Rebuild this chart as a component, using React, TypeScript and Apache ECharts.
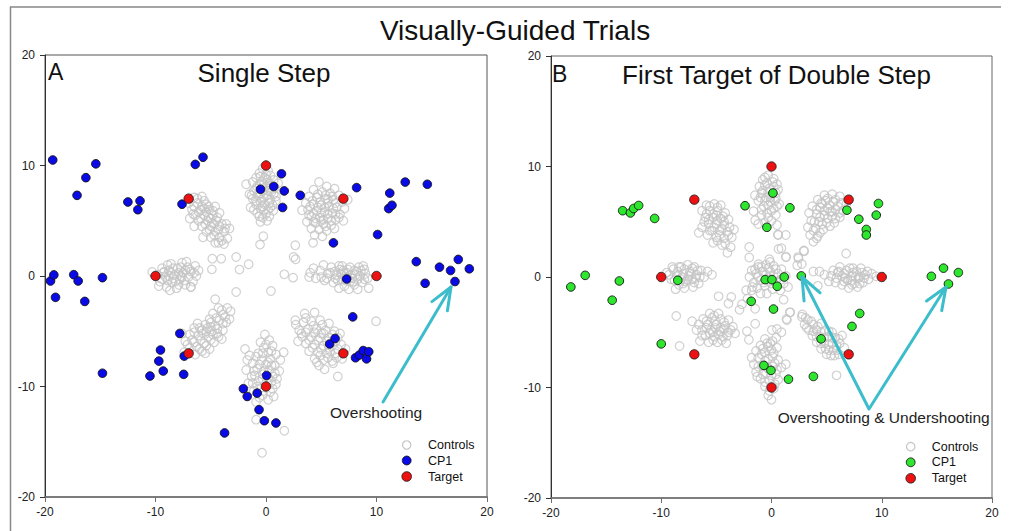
import React, { useEffect, useRef } from "react";
import * as echarts from "echarts";

const FONT = '"Liberation Sans", Arial, Helvetica, sans-serif';

// ---------- Panel A (Single Step) ----------
const targets: number[][] = [
  [-10, 0], [10, 0], [0, 10], [0, -10], [7, 7], [-7, 7], [7, -7], [-7, -7],
];

const cp1A: number[][] = [
  [-19.3, 10.5], [-6.4, 10.1], [-5.7, 10.75], [-16.3, 8.9], [-15.4, 10.15], [-17.1, 7.3],
  [-12.5, 6.7], [-11.4, 6.8], [-11.6, 6.0], [-7.6, 6.5], [-0.5, 7.85], [1.4, 9.25],
  [0.7, 8.1], [1.65, 7.7], [1.5, 6.2], [3.1, 7.3], [8.2, 8.0], [6.1, 3.0], [10.1, 3.75],
  [11.2, 7.5], [11.1, 6.1], [11.4, 6.4], [12.6, 8.5], [14.6, 8.3], [13.6, 1.3], [15.7, 0.8],
  [16.7, 0.5], [17.4, 1.5], [18.4, 0.65], [14.4, -0.66], [17.1, -0.5], [7.3, -0.27],
  [-19.5, -0.45], [-19.2, 0.1], [-17.4, 0.12], [-17.0, -0.45], [-14.8, -0.15], [-19.05, -1.93],
  [-16.4, -2.3], [-14.8, -8.8], [-10.5, -9.05], [-9.7, -7.7], [-9.55, -6.7], [-9.3, -8.6],
  [-7.8, -5.2], [-7.45, -8.9], [-7.4, -7.25], [-3.75, -14.2], [-2.05, -10.2], [-1.7, -10.9],
  [-0.8, -10.6], [-0.63, -12.1], [-0.15, -13.1], [0.05, -9.0], [0.9, -13.3], [5.76, -6.15],
  [6.25, -5.65], [7.85, -3.7], [8.1, -7.4], [8.45, -7.15], [8.8, -6.75], [9.1, -7.5], [9.3, -6.85],
];

const ctrlA_U: number[][] = [
  [-0.3, 9.7], [0.2, 9.5], [-0.6, 9.3], [0.4, 9.1], [-0.9, 8.9], [-0.1, 8.9], [0.7, 8.7],
  [-1.2, 8.5], [-0.4, 8.5], [0.3, 8.4], [-0.8, 8.1], [0.0, 8.1], [0.8, 8.0], [-1.8, 8.3],
  [-1.1, 7.7], [-0.3, 7.7], [0.5, 7.6], [-0.7, 7.3], [0.1, 7.3], [0.9, 7.2], [-1.2, 7.0],
  [-0.4, 6.9], [0.4, 6.9], [-0.9, 6.5], [-0.1, 6.5], [0.6, 6.4], [-1.4, 6.2], [-0.5, 6.1],
  [0.2, 6.0], [-0.8, 5.7], [0.0, 5.6], [0.66, 5.9], [-0.3, 5.3], [0.1, 5.0], [-0.5, 4.9],
  [-0.24, 3.6], [-0.54, 2.84], [1.1, 8.4], [-1.5, 7.4], [0.3, 7.9],
  [-0.5, 9.0], [0.1, 8.7], [-0.6, 8.3], [0.4, 8.2], [-0.2, 8.3], [-0.9, 7.9], [0.2, 7.7],
  [-0.5, 7.5], [0.7, 7.4], [-0.2, 7.1], [-0.9, 6.8], [0.3, 6.6], [-0.5, 6.7], [-0.3, 6.3],
  [0.4, 6.2], [-1.1, 6.0], [-0.2, 5.9], [0.3, 5.4], [-0.6, 5.4], [0.9, 6.8], [-1.3, 7.3], [0.0, 9.2],
];
const ctrlA_UR: number[][] = [
  [4.8, 8.5], [5.5, 8.1], [6.2, 7.9], [4.3, 7.8], [5.1, 7.6], [5.8, 7.5], [6.6, 7.3],
  [3.9, 7.2], [4.6, 7.1], [5.4, 7.0], [6.1, 6.9], [6.9, 6.7], [3.6, 6.6], [4.3, 6.5],
  [5.0, 6.4], [5.7, 6.3], [6.4, 6.2], [7.1, 6.1], [3.8, 6.0], [4.6, 5.9], [5.3, 5.8],
  [6.0, 5.7], [6.7, 5.6], [4.1, 5.4], [4.9, 5.3], [5.6, 5.2], [6.3, 5.1], [7.0, 5.0],
  [3.7, 4.9], [4.5, 4.8], [5.2, 4.7], [5.9, 4.6], [4.1, 4.3], [4.8, 4.2], [5.5, 4.1],
  [6.2, 4.3], [4.4, 3.7], [5.1, 3.6], [4.26, 3.0], [3.26, 5.95], [7.4, 6.9], [5.0, 5.0], [5.6, 6.6],
  [4.7, 7.4], [5.4, 7.3], [6.0, 7.2], [4.2, 6.8], [4.9, 6.7], [5.6, 6.9], [6.3, 6.6],
  [4.0, 6.3], [4.7, 6.2], [5.3, 6.2], [6.1, 6.1], [4.3, 5.7], [5.0, 5.7], [5.6, 5.6],
  [6.3, 5.6], [4.5, 5.2], [5.2, 5.1], [5.9, 5.0], [4.3, 4.9], [5.4, 4.5], [6.6, 5.3], [3.9, 5.5],
];
const ctrlA_R: number[][] = [
  [4.0, 0.3], [4.5, -0.2], [4.9, 0.5], [5.3, -0.4], [5.6, 0.2], [5.9, 0.8], [6.1, -0.6],
  [6.4, 0.1], [6.7, 0.6], [6.9, -0.3], [7.1, -0.9], [7.3, 0.3], [7.6, 0.8], [7.8, -0.2],
  [8.0, -0.8], [8.2, 0.4], [8.5, 0.0], [8.7, -0.6], [8.9, 0.6], [9.2, -0.2], [9.3, -1.1],
  [7.5, -1.2], [6.6, -1.1], [8.3, -1.2], [5.2, 1.0], [6.9, 0.9], [7.1, 0.2], [7.6, -0.5],
  [8.1, 0.1], [6.2, 0.4], [4.3, 0.7], [5.0, -0.1], [8.8, 0.9], [9.0, 0.2], [3.9, -0.1], [6.5, -0.4],
  [5.8, 0.3], [6.3, -0.2], [6.8, 0.2], [7.2, -0.4], [7.4, 0.6], [7.7, 0.1], [8.0, 0.5],
  [8.3, -0.3], [8.6, 0.5], [7.9, -0.5], [7.0, 0.5], [6.6, 0.9], [8.4, 0.8], [5.5, -0.2],
  [7.3, -0.1], [8.9, -0.3],
];
const ctrlA_DR: number[][] = [
  [3.5, -3.4], [4.4, -3.3], [2.65, -4.0], [2.7, -4.4], [3.4, -4.2], [4.1, -4.1], [4.9, -4.0],
  [5.7, -4.3], [3.0, -4.9], [3.8, -4.8], [4.6, -4.8], [5.4, -4.9], [6.2, -5.0], [3.3, -5.5],
  [4.1, -5.5], [4.9, -5.6], [5.7, -5.6], [6.5, -5.6], [3.6, -6.1], [4.4, -6.2], [5.2, -6.3],
  [6.0, -6.3], [6.8, -6.2], [3.9, -6.8], [4.7, -6.9], [5.5, -7.0], [6.3, -7.0], [4.4, -7.5],
  [5.2, -7.6], [6.0, -7.7], [6.9, -7.5], [5.3, -8.45], [6.5, -9.1], [6.07, -7.9], [4.8, -8.1],
  [2.9, -5.9], [5.0, -5.2], [5.8, -6.8], [7.2, -6.6], [3.6, -3.8],
  [4.3, -4.5], [5.1, -4.4], [3.6, -5.1], [4.4, -5.1], [5.2, -5.2], [6.0, -5.3], [3.9, -5.8],
  [4.7, -5.8], [5.5, -5.9], [6.3, -5.9], [4.2, -6.5], [5.0, -6.6], [5.7, -6.5], [6.5, -6.6],
  [4.9, -7.2], [5.6, -7.4], [6.4, -7.4], [4.6, -7.8], [3.2, -5.2], [6.7, -5.2],
];
const ctrlA_D: number[][] = [
  [-0.1, -5.3], [0.3, -5.8], [-0.5, -6.0], [0.6, -6.3], [-0.2, -6.5], [0.2, -6.9], [-0.7, -7.0],
  [0.9, -7.1], [-1.5, -7.2], [0.4, -7.5], [-0.4, -7.6], [1.3, -7.6], [-1.2, -7.9], [0.0, -8.0],
  [0.8, -8.1], [-0.8, -8.4], [0.3, -8.5], [-1.8, -8.5], [1.2, -8.6], [-0.3, -8.9], [-1.3, -9.1],
  [0.6, -9.1], [-0.7, -9.5], [0.1, -9.6], [-1.6, -9.7], [0.9, -9.8], [-0.4, -10.1], [-1.1, -10.4],
  [0.4, -10.5], [-0.6, -11.0], [0.2, -11.2], [-1.9, -6.6], [-1.7, -7.6], [1.6, -6.9],
  [-0.9, -13.0], [1.66, -14.0], [-0.36, -16.0], [-0.9, -11.4], [0.7, -10.9],
  [0.0, -6.2], [-0.3, -7.0], [0.5, -6.8], [-0.9, -7.3], [0.2, -7.8], [-0.6, -8.0], [0.5, -8.1],
  [-1.1, -8.6], [-0.2, -8.6], [0.8, -8.8], [-1.0, -9.0], [0.2, -9.2], [-0.3, -9.3], [-1.2, -9.7],
  [0.5, -9.6], [-0.2, -10.4], [-0.8, -10.0], [0.6, -10.2], [-0.3, -10.8], [1.0, -9.3],
];
const ctrlA_DL: number[][] = [
  [-4.6, -2.1], [-3.5, -2.9], [-3.2, -3.2], [-4.3, -2.9], [-3.9, -3.5], [-4.8, -3.4], [-4.2, -4.0],
  [-5.1, -3.9], [-3.6, -4.2], [-4.6, -4.5], [-5.5, -4.4], [-3.9, -4.9], [-4.9, -5.0], [-5.8, -4.9],
  [-6.5, -4.7], [-4.3, -5.5], [-5.2, -5.5], [-6.1, -5.4], [-6.9, -5.3], [-4.7, -6.0], [-5.6, -6.1],
  [-6.5, -6.0], [-7.3, -5.9], [-5.1, -6.6], [-6.0, -6.6], [-6.9, -6.5], [-5.5, -7.0], [-6.4, -7.1],
  [-7.4, -6.9], [-5.0, -4.6], [-5.4, -5.0], [-4.0, -5.7], [-7.6, -5.2], [-6.2, -4.3], [-3.3, -3.9],
  [-4.0, -3.1], [-4.5, -3.8], [-3.9, -4.3], [-5.0, -4.2], [-4.4, -4.8], [-5.3, -4.7], [-6.0, -4.7],
  [-4.8, -5.3], [-5.7, -5.2], [-6.5, -5.1], [-5.0, -5.8], [-5.9, -5.8], [-6.7, -5.8], [-5.4, -6.3],
  [-6.3, -6.4], [-7.1, -6.2], [-5.8, -6.8], [-4.4, -5.2], [-3.7, -3.7],
];
const ctrlA_L: number[][] = [
  [-10.3, 0.36], [-9.8, 0.1], [-9.6, -0.5], [-9.4, 0.7], [-9.1, -0.1], [-9.0, -1.0], [-8.8, 0.5],
  [-8.6, 1.1], [-8.5, -0.6], [-8.3, 0.1], [-8.1, -1.1], [-8.0, 0.7], [-7.8, -0.3], [-7.6, 1.2],
  [-7.5, 0.3], [-7.3, -0.8], [-7.1, 0.8], [-7.0, -0.1], [-6.8, 0.4], [-6.6, -0.5], [-6.4, 0.9],
  [-6.3, 0.0], [-6.8, -1.0], [-7.7, 0.0], [-8.4, -0.2], [-9.3, 0.3], [-8.9, 1.0], [-7.2, 1.3],
  [-6.1, 0.5], [-9.7, -0.9], [-8.7, -1.3],
  [-9.2, 0.4], [-8.9, -0.4], [-8.6, 0.3], [-8.4, 0.7], [-8.2, -0.5], [-7.9, 0.3], [-7.7, 0.8],
  [-7.4, -0.4], [-7.3, 0.5], [-7.9, -0.8], [-6.9, 0.6], [-6.5, 0.3], [-8.8, 0.0], [-9.4, -0.3], [-7.6, -0.1],
];
const ctrlA_UL: number[][] = [
  [-6.5, 7.1], [-5.8, 7.2], [-7.0, 6.6], [-6.2, 6.6], [-5.4, 6.5], [-6.7, 6.0], [-5.9, 6.0],
  [-5.1, 6.0], [-4.6, 6.3], [-6.4, 5.5], [-5.6, 5.5], [-4.8, 5.5], [-4.2, 5.7], [-6.9, 5.2],
  [-6.1, 5.0], [-5.3, 5.0], [-4.5, 5.0], [-5.8, 4.5], [-5.0, 4.5], [-4.2, 4.5], [-3.6, 4.7],
  [-5.4, 4.0], [-4.6, 4.0], [-3.8, 4.0], [-3.3, 4.3], [-5.0, 3.5], [-4.2, 3.5], [-3.5, 3.4],
  [-4.6, 3.0], [-3.8, 2.9], [-5.7, 3.5], [-6.5, 4.5], [-4.3, 3.0], [-5.2, 5.3], [-4.9, 4.8], [-5.6, 6.1],
  [-6.2, 7.0], [-5.6, 6.8], [-6.5, 6.3], [-5.8, 6.3], [-5.2, 6.3], [-6.1, 5.8], [-5.4, 5.8],
  [-4.8, 5.9], [-5.9, 5.2], [-5.0, 5.2], [-4.4, 5.3], [-5.5, 4.7], [-4.7, 4.7], [-4.0, 4.7],
  [-5.1, 4.2], [-4.3, 4.2], [-3.7, 4.3], [-4.7, 3.7], [-4.0, 3.2], [-6.6, 5.6],
];
const scatterA: number[][] = [
  [-4.86, 1.57], [-4.05, 1.57], [-4.9, 0.6], [-2.7, 1.72], [-2.4, 0.58], [-1.57, 1.06],
  [1.66, 0.15], [2.45, -0.15], [2.65, 2.78], [2.5, 1.72], [2.68, 1.51], [-2.7, -1.45],
  [0.45, -1.36], [9.96, -4.1], [-6.8, -1.0],
];

// ---------- Panel B (First Target of Double Step) ----------
const cp1B: number[][] = [
  [-13.5, 6.0], [-12.8, 5.8], [-12.5, 6.2], [-12.05, 6.47], [-10.6, 5.3], [-2.4, 6.45],
  [0.13, 7.6], [-0.42, 4.5], [1.67, 6.26], [6.84, 6.05], [7.92, 5.23], [8.6, 4.3], [8.6, 3.8],
  [9.5, 5.6], [9.7, 6.65], [-16.9, 0.15], [-13.8, -0.36], [-8.5, -0.3], [-0.57, -0.24],
  [0.04, -0.24], [1.15, 0.0], [2.7, 0.1], [0.52, -0.84], [14.5, 0.06], [15.6, 0.8],
  [16.95, 0.4], [16.05, -0.63], [-18.2, -0.9], [-14.45, -2.1], [-10.0, -6.05], [-1.84, -2.2],
  [0.18, -2.9], [-0.69, -8.0], [-0.05, -8.45], [1.54, -9.25], [3.8, -9.0], [4.5, -5.6],
  [7.3, -4.47], [8.0, -3.3],
];

const ctrlB_U: number[][] = [
  [-0.3, 9.2], [0.2, 8.9], [-0.8, 8.8], [-0.4, 8.5], [0.5, 8.4], [-1.1, 8.2], [-0.2, 8.0],
  [0.6, 7.9], [-0.9, 7.6], [0.1, 7.5], [-1.5, 7.4], [-0.5, 7.2], [0.4, 7.1], [-1.2, 6.9],
  [-0.1, 6.8], [0.7, 6.6], [-0.7, 6.4], [0.2, 6.2], [-0.4, 5.8], [0.4, 5.6], [-0.9, 5.6],
  [0.0, 5.1], [0.5, 4.7], [-0.6, 4.9], [1.3, 3.8], [0.9, 2.6], [-1.2, 4.8],
  [-0.6, 9.0], [0.1, 8.6], [-0.6, 8.3], [0.2, 8.2], [-0.8, 7.8], [-0.3, 7.7], [0.4, 7.6],
  [-1.0, 7.2], [-0.1, 7.2], [-0.6, 6.9], [0.3, 6.9], [-0.3, 6.5], [0.5, 6.4], [-0.9, 6.1],
  [0.0, 6.0], [-0.3, 5.4],
];
const ctrlB_UR: number[][] = [
  [4.8, 7.4], [5.5, 7.5], [6.2, 7.3], [4.2, 7.0], [4.9, 6.9], [5.6, 6.8], [6.3, 6.7],
  [3.7, 6.4], [4.4, 6.3], [5.1, 6.2], [5.8, 6.1], [6.5, 6.0], [3.4, 5.8], [4.1, 5.7],
  [4.8, 5.6], [5.5, 5.5], [6.2, 5.4], [3.6, 5.1], [4.3, 5.0], [5.0, 4.9], [5.7, 4.9],
  [3.3, 4.5], [4.0, 4.4], [4.7, 4.3], [3.5, 3.8], [4.2, 3.7], [3.8, 3.2], [6.8, 6.6],
  [5.3, 5.9], [4.6, 6.6],
  [5.1, 7.1], [5.8, 7.0], [4.5, 6.7], [5.3, 6.5], [6.0, 6.4], [4.1, 6.1], [4.8, 6.0],
  [5.5, 5.9], [6.2, 5.8], [4.4, 5.4], [5.1, 5.3], [5.8, 5.3], [3.9, 5.0], [4.6, 4.8],
  [5.3, 4.6], [3.8, 4.2], [4.4, 4.0], [4.1, 3.5],
];
const ctrlB_R: number[][] = [
  [4.8, 0.2], [5.2, -0.4], [5.6, 0.6], [5.9, -0.1], [6.2, 0.9], [6.4, -0.7], [6.6, 0.3],
  [6.9, -0.3], [7.1, 0.8], [7.3, 0.1], [7.5, -0.6], [7.7, 0.5], [7.9, -0.1], [8.1, 0.8],
  [8.3, -0.5], [8.5, 0.2], [8.8, -0.2], [9.1, 0.3], [7.0, -1.0], [7.8, -0.9], [6.0, 0.4],
  [7.4, 0.4], [8.0, 0.0], [6.7, -0.1], [4.2, -0.8], [9.5, 0.06],
  [5.4, 0.1], [5.8, -0.5], [6.1, 0.5], [6.6, -0.4], [6.8, 0.6], [7.2, -0.3], [7.4, 0.8],
  [7.6, 0.0], [8.2, 0.4], [8.4, -0.1], [8.7, 0.5], [7.3, -0.7], [6.4, 0.1], [8.0, -0.6],
];
const ctrlB_DR: number[][] = [
  [2.8, -3.4], [3.3, -3.9], [3.0, -4.3], [3.8, -4.3], [4.5, -4.2], [3.4, -4.8], [4.1, -4.8],
  [4.8, -4.9], [5.5, -5.0], [3.7, -5.3], [4.4, -5.4], [5.1, -5.4], [5.8, -5.5], [6.4, -5.3],
  [4.1, -5.9], [4.8, -6.0], [5.5, -6.0], [6.2, -6.0], [4.5, -6.5], [5.2, -6.6], [5.9, -6.6],
  [6.6, -6.4], [5.0, -7.0], [5.7, -7.1], [6.1, -7.0], [3.2, -4.6],
  [3.6, -4.0], [4.2, -4.5], [3.8, -4.9], [4.5, -5.0], [5.2, -4.9], [4.1, -5.4], [4.8, -5.5],
  [5.5, -5.5], [6.1, -5.6], [4.5, -6.0], [5.2, -6.1], [5.9, -6.2], [4.9, -6.5], [5.6, -6.6],
  [5.4, -7.1], [3.1, -3.7],
];
const ctrlB_D: number[][] = [
  [-0.6, -5.6], [0.1, -5.8], [-1.0, -6.2], [-0.3, -6.3], [0.5, -6.4], [-1.4, -6.7], [-0.6, -6.8],
  [0.2, -6.9], [-1.2, -7.3], [-0.3, -7.4], [0.6, -7.5], [-1.6, -7.9], [-0.8, -8.0], [0.1, -8.1],
  [0.9, -8.2], [-1.4, -8.6], [-0.5, -8.7], [0.4, -8.8], [-1.0, -9.2], [-0.2, -9.4], [0.6, -9.3],
  [-0.6, -9.9], [0.2, -10.1], [-0.3, -10.7], [0.0, -11.1], [1.3, -7.9], [-1.8, -7.3], [-0.1, -6.0],
  [-0.4, -6.0], [-0.8, -6.5], [0.0, -6.6], [-0.9, -7.0], [0.1, -7.2], [-0.6, -7.6], [0.3, -7.8],
  [-1.2, -8.1], [-0.3, -8.3], [0.5, -8.4], [-0.8, -8.8], [0.0, -8.9], [-0.6, -9.5], [0.3, -9.7],
  [-0.2, -10.3], [-1.3, -9.0],
];
const ctrlB_DL: number[][] = [
  [-5.6, -3.3], [-4.8, -3.3], [-6.2, -3.8], [-5.4, -3.7], [-4.6, -3.8], [-3.9, -3.9], [-6.6, -4.3],
  [-5.8, -4.3], [-5.0, -4.3], [-4.2, -4.4], [-3.5, -4.5], [-6.3, -4.8], [-5.5, -4.8], [-4.7, -4.9],
  [-3.9, -5.0], [-6.0, -5.3], [-5.2, -5.4], [-4.4, -5.4], [-5.7, -5.9], [-4.9, -5.9], [-4.1, -6.0],
  [-6.5, -5.8], [-3.3, -5.1], [-5.3, -5.0], [-4.6, -4.6],
  [-5.2, -3.5], [-5.9, -4.0], [-5.1, -4.0], [-4.3, -4.1], [-5.9, -4.6], [-5.1, -4.6], [-4.3, -4.7],
  [-5.6, -5.1], [-4.8, -5.2], [-4.0, -5.3], [-5.3, -5.7], [-4.5, -5.7], [-6.3, -5.3], [-3.7, -4.8],
];
const ctrlB_L: number[][] = [
  [-9.5, 0.4], [-9.1, -0.2], [-8.9, 0.7], [-8.6, 0.1], [-8.4, -0.7], [-8.2, 0.9], [-8.0, 0.3],
  [-7.8, -0.4], [-7.6, 1.1], [-7.4, 0.5], [-7.2, -0.2], [-7.0, 0.9], [-6.8, 0.2], [-6.6, -0.6],
  [-6.4, 0.6], [-6.1, 0.0], [-5.8, 0.5], [-5.4, 0.2], [-8.7, -1.1], [-7.9, -1.0], [-7.1, -0.9],
  [-8.1, 0.0], [-7.5, 0.1], [-6.9, -0.1], [-9.0, 0.9],
  [-9.3, 0.2], [-8.8, -0.3], [-8.5, 0.5], [-8.2, -0.2], [-7.9, 0.7], [-7.6, -0.2], [-7.3, 0.3],
  [-7.0, -0.5], [-6.7, 0.6], [-6.5, 0.0], [-8.0, -0.6], [-7.2, 0.8], [-8.4, 0.9],
];
const ctrlB_UL: number[][] = [
  [-5.9, 6.5], [-5.2, 6.6], [-4.6, 6.5], [-6.3, 6.0], [-5.6, 6.0], [-4.9, 6.0], [-4.2, 5.8],
  [-6.0, 5.4], [-5.3, 5.4], [-4.6, 5.3], [-3.9, 5.2], [-5.7, 4.8], [-5.0, 4.8], [-4.3, 4.7],
  [-6.3, 4.5], [-5.4, 4.2], [-4.7, 4.2], [-4.0, 4.1], [-3.4, 4.3], [-5.8, 3.8], [-5.0, 3.6],
  [-4.3, 3.5], [-3.6, 3.6], [-5.3, 3.1], [-4.5, 2.9], [-3.7, 2.7], [-4.0, 2.2], [-6.6, 4.0],
  [-4.9, 5.1], [-5.3, 5.7],
  [-5.6, 6.4], [-4.9, 6.3], [-5.9, 5.7], [-5.0, 5.6], [-4.4, 5.5], [-5.7, 5.2], [-4.3, 5.0],
  [-5.2, 4.5], [-4.5, 4.4], [-3.8, 4.5], [-5.6, 4.2], [-4.7, 3.8], [-3.9, 3.8], [-4.9, 3.3],
  [-4.2, 3.0], [-6.1, 5.0],
];
const ctrlB_C: number[][] = [
  [-1.8, 0.6], [-1.2, 0.9], [-0.5, 1.1], [0.2, 1.0], [0.9, 0.7], [-2.0, 0.0], [-1.4, 0.3],
  [-0.8, 0.5], [-0.1, 0.5], [0.6, 0.3], [1.3, 0.1], [-1.6, -0.5], [-1.0, -0.3], [-0.3, -0.1],
  [0.4, -0.4], [1.1, -0.6], [-1.3, -1.0], [-0.6, -0.8], [0.1, -1.1], [0.8, -1.2], [-0.2, 1.6],
  [-1.0, -1.5], [1.5, -0.9],
  [-1.5, 0.7], [-0.9, 0.9], [-0.3, 0.8], [0.4, 0.7], [-1.2, 0.0], [-0.5, 0.2], [0.2, 0.1],
  [0.9, -0.2], [-0.7, -0.5], [0.0, -0.6], [-1.8, -1.2],
];
const scatterB: number[][] = [
  [-8.64, -3.53], [-8.34, -6.25], [-7.2, -4.0], [-6.8, -4.8], [-4.8, -1.75], [-3.9, -2.4],
  [-3.65, -1.81], [-2.9, -2.96], [-2.68, -2.47], [-2.02, 2.72], [-2.02, 1.76], [-1.18, 1.15],
  [-1.72, -0.9], [-2.3, -1.2], [-2.18, -1.96], [-1.48, -2.87], [-1.48, -4.23], [-2.23, -4.9],
  [-2.05, -5.68], [-1.63, 5.96], [-1.48, 5.14], [0.58, 3.84], [0.64, 2.54], [1.33, 1.81],
  [2.96, 2.33], [2.45, 1.67], [2.75, 1.18], [6.77, 2.12], [-0.12, 1.36], [3.8, 0.5], [4.35, 0.5],
  [-0.42, -1.5], [1.1, -2.05], [1.7, -3.2], [1.4, -3.9], [0.49, -4.7], [0.03, -4.8], [0.43, -5.5],
  [2.75, -3.6], [5.9, -8.9], [0.61, 3.8], [1.3, 1.8], [2.42, 1.8], [2.93, 2.4], [2.33, 1.06],
  [1.66, -3.2], [1.36, -3.8], [0.9, -5.0],
];

const ctrlA = [...ctrlA_U, ...ctrlA_UR, ...ctrlA_R, ...ctrlA_DR, ...ctrlA_D, ...ctrlA_DL, ...ctrlA_L, ...ctrlA_UL, ...scatterA];
const ctrlB = [...ctrlB_U, ...ctrlB_UR, ...ctrlB_R, ...ctrlB_DR, ...ctrlB_D, ...ctrlB_DL, ...ctrlB_L, ...ctrlB_UL, ...ctrlB_C, ...scatterB];

const axisTicks = [-20, -10, 0, 10, 20];

const CTRL_GREY = "#c4c4c4";
const BLUE = "#0a0ae8";
const GREEN = "#2ee62e";
const RED = "#ee1111";
const ARROW = "#3cbdcc";

function arrowHead(tip: number[], tail: number[], len = 24, angDeg = 22): number[][] {
  const dx = tail[0] - tip[0];
  const dy = tail[1] - tip[1];
  const L = Math.hypot(dx, dy);
  const ux = dx / L, uy = dy / L;
  const a = (angDeg * Math.PI) / 180;
  const c = Math.cos(a), s = Math.sin(a);
  const p1 = [tip[0] + len * (ux * c - uy * s), tip[1] + len * (ux * s + uy * c)];
  const p2 = [tip[0] + len * (ux * c + uy * s), tip[1] + len * (-ux * s + uy * c)];
  return [p1, tip, p2];
}

function txt(x: number, y: number, text: string, size: number, align = "left", color = "#111") {
  return {
    type: "text",
    x,
    y,
    z: 20,
    style: {
      text,
      fontSize: size,
      fontFamily: FONT,
      fill: color,
      align,
      verticalAlign: "middle",
      textAlign: align,
      textVerticalAlign: "middle",
    },
  };
}

function legendItems(mx: number, ys: number[], tx: number, cpColor: string) {
  return [
    { type: "circle", z: 20, shape: { cx: mx, cy: ys[0], r: 4.2 }, style: { fill: "#fff", stroke: CTRL_GREY, lineWidth: 1.2 } },
    { type: "circle", z: 20, shape: { cx: mx, cy: ys[1], r: 4.4 }, style: { fill: cpColor, stroke: "#111", lineWidth: 0.9 } },
    { type: "circle", z: 20, shape: { cx: mx, cy: ys[2], r: 4.8 }, style: { fill: RED, stroke: "#222", lineWidth: 0.9 } },
    txt(tx, ys[0], "Controls", 12.5),
    txt(tx, ys[1], "CP1", 12.5),
    txt(tx, ys[2], "Target", 12.5),
  ];
}

function mkX(gi: number) {
  return {
    gridIndex: gi,
    type: "value",
    min: -20,
    max: 20,
    interval: 10,
    splitLine: { show: false },
    axisLine: { show: true, onZero: false, lineStyle: { color: "#6e6e6e", width: 1.6 } },
    axisTick: { show: true, inside: false, length: 5, lineStyle: { color: "#6e6e6e", width: 1 } },
    axisLabel: {
      color: "#222",
      fontSize: 12,
      fontFamily: FONT,
      margin: 9,
      formatter: (v: number) => (axisTicks.includes(v) ? String(v) : ""),
    },
  };
}
function mkY(gi: number) {
  return {
    gridIndex: gi,
    type: "value",
    min: -20,
    max: 20,
    interval: 10,
    splitLine: { show: false },
    axisLine: { show: true, onZero: false, lineStyle: { color: "#333", width: 1 } },
    axisTick: { show: true, inside: false, length: 5, lineStyle: { color: "#333", width: 1 } },
    axisLabel: {
      color: "#222",
      fontSize: 12,
      fontFamily: FONT,
      margin: 10,
      formatter: (v: number) => (axisTicks.includes(v) ? String(v) : ""),
    },
  };
}

function ctrlSeries(data: number[][], gi: number) {
  return {
    name: "Controls",
    type: "scatter",
    xAxisIndex: gi,
    yAxisIndex: gi,
    data,
    symbol: "circle",
    symbolSize: 8.6,
    silent: true,
    itemStyle: { color: "rgba(255,255,255,0)", borderColor: CTRL_GREY, borderWidth: 1.2 },
    z: 2,
  };
}
function cpSeries(data: number[][], gi: number, color: string) {
  return {
    name: "CP1",
    type: "scatter",
    xAxisIndex: gi,
    yAxisIndex: gi,
    data,
    symbol: "circle",
    symbolSize: 8.6,
    silent: true,
    itemStyle: { color, borderColor: "#111", borderWidth: 0.9, opacity: 1 },
    z: 3,
  };
}
function targetSeries(gi: number) {
  return {
    name: "Target",
    type: "scatter",
    xAxisIndex: gi,
    yAxisIndex: gi,
    data: targets,
    symbol: "circle",
    symbolSize: 9.4,
    silent: true,
    itemStyle: { color: RED, borderColor: "#222", borderWidth: 0.9, opacity: 1 },
    z: 4,
  };
}

export default function App() {
  const ref = useRef<HTMLDivElement | null>(null);

  useEffect(() => {
    if (!ref.current) return;
    const chart = echarts.init(ref.current, null, { renderer: "svg" });

    const leftTail = [383, 402];
    const leftTip = [451, 287];
    const vertex = [869, 409];
    const tipB1 = [802, 277];
    const tipB2 = [946, 287];

    const arrowStyle = { stroke: ARROW, lineWidth: 3, fill: "none", lineCap: "round", lineJoin: "round" };

    const option: any = {
      animation: false,
      backgroundColor: "#ffffff",
      grid: [
        { left: 45, top: 55, width: 442, height: 442, show: true, borderColor: "#555", borderWidth: 1, backgroundColor: "transparent" },
        { left: 551, top: 56, width: 441, height: 442, show: true, borderColor: "#666", borderWidth: 1, backgroundColor: "transparent" },
      ],
      xAxis: [mkX(0), mkX(1)],
      yAxis: [mkY(0), mkY(1)],
      series: [
        ctrlSeries(ctrlA, 0),
        cpSeries(cp1A, 0, BLUE),
        targetSeries(0),
        ctrlSeries(ctrlB, 1),
        cpSeries(cp1B, 1, GREEN),
        targetSeries(1),
      ],
      graphic: [
        {
          type: "polyline",
          z: 1,
          shape: { points: [[10.5, 531], [10.5, 7], [1001, 7]] },
          style: { stroke: "#888", lineWidth: 1.5, fill: "none" },
        },
        txt(515, 30, "Visually-Guided Trials", 28, "center"),
        txt(48, 71.5, "A", 23, "left"),
        txt(264, 72.5, "Single Step", 26, "center"),
        txt(552, 74, "B", 23, "left"),
        txt(776.5, 74.5, "First Target of Double Step", 26, "center"),
        txt(330, 412.8, "Overshooting", 15.5, "left", "#222"),
        txt(777.7, 417.5, "Overshooting & Undershooting", 15.5, "left", "#222"),
        { type: "polyline", z: 15, shape: { points: [leftTail, leftTip] }, style: arrowStyle },
        { type: "polyline", z: 15, shape: { points: arrowHead(leftTip, leftTail) }, style: arrowStyle },
        { type: "polyline", z: 15, shape: { points: [tipB1, vertex, tipB2] }, style: arrowStyle },
        { type: "polyline", z: 15, shape: { points: arrowHead(tipB1, vertex) }, style: arrowStyle },
        { type: "polyline", z: 15, shape: { points: arrowHead(tipB2, vertex) }, style: arrowStyle },
        ...legendItems(406.7, [445, 460.5, 476.5], 428, BLUE),
        ...legendItems(910.7, [446.7, 462.3, 478.3], 931.7, GREEN),
      ],
    };

    chart.setOption(option);
    return () => {
      chart.dispose();
    };
  }, []);

  return (
    <div
      ref={ref}
      style={{ position: "absolute", left: 0, top: 0, width: 1011, height: 531, background: "#fff" }}
    />
  );
}
